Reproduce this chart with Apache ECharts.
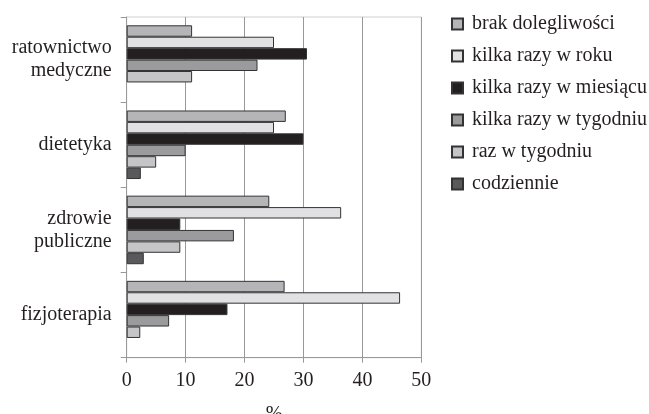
<!DOCTYPE html>
<html><head><meta charset="utf-8">
<script src="https://cdn.jsdelivr.net/npm/echarts@6/dist/echarts.min.js"></script>
<style>html,body{margin:0;padding:0;background:#fff}#c{width:649px;height:414px}</style>
</head><body><div id="c"></div>
<script>
var categories = ['ratownictwo\nmedyczne', 'dietetyka', 'zdrowie\npubliczne', 'fizjoterapia'];
var seriesNames = ['brak dolegliwości', 'kilka razy w roku', 'kilka razy w miesiącu', 'kilka razy w tygodniu', 'raz w tygodniu', 'codziennie'];
var brak = [11.1, 27.0, 24.2, 26.8];
var roku = [25.0, 25.0, 36.4, 46.4];
var miesiac = [30.6, 30.0, 9.1, 17.1];
var tydzien = [22.2, 10.0, 18.2, 7.2];
var razTydz = [11.1, 5.0, 9.1, 2.3];
var codziennie = [0, 2.4, 2.9, 0];
var xTicks = [0, 10, 20, 30, 40, 50];
var colors = ['#b5b5b8', '#e1e1e3', '#231f20', '#9b9b9d', '#c5c5c8', '#59595b'];
var values = [brak, roku, miesiac, tydzien, razTydz, codziennie];
var font = '"Liberation Serif", "DejaVu Serif", serif';
var chart = echarts.init(document.getElementById('c'));
chart.setOption({
  animation: false,
  textStyle: {fontFamily: font},
  grid: {left: 126.7, right: 227.7, top: 17, bottom: 56.3, show: true, borderColor: '#cfcfcf', borderWidth: 1,
         containLabel: false, outerBoundsMode: 'none'},
  legend: {
    orient: 'vertical', left: 446, top: 9, itemWidth: 11, itemHeight: 11, itemGap: 12,
    icon: 'rect',
    textStyle: {fontFamily: font, fontSize: 20, color: '#231f20', lineHeight: 20, padding: [0, 0, 0, 4]},
    data: seriesNames
  },
  xAxis: {
    type: 'value', min: xTicks[0], max: xTicks[xTicks.length - 1], interval: 10,
    name: '%', nameLocation: 'middle', nameGap: 47,
    nameTextStyle: {fontFamily: font, fontSize: 20, color: '#231f20'},
    axisLine: {show: true, lineStyle: {color: '#999', width: 1}},
    axisTick: {show: true, length: 5, lineStyle: {color: '#999'}},
    axisLabel: {fontFamily: font, fontSize: 20, color: '#231f20', margin: 13},
    splitLine: {show: true, lineStyle: {color: '#999', width: 1}}
  },
  yAxis: {
    type: 'category', inverse: true, data: categories,
    axisLine: {show: true, lineStyle: {color: '#999', width: 1}},
    axisTick: {show: true, length: 6, lineStyle: {color: '#999'}},
    axisLabel: {fontFamily: font, fontSize: 20, color: '#231f20', margin: 15, lineHeight: 23, align: 'right'},
    splitLine: {show: false}
  },
  series: seriesNames.map(function (n, i) {
    return {
      name: n, type: 'bar',
      data: values[i].map(function (v) { return v === 0 ? '-' : v; }),
      barGap: '0%', barCategoryGap: '19.5%',
      itemStyle: {color: colors[i], borderColor: '#333', borderWidth: 1}
    };
  })
});
</script></body></html>
